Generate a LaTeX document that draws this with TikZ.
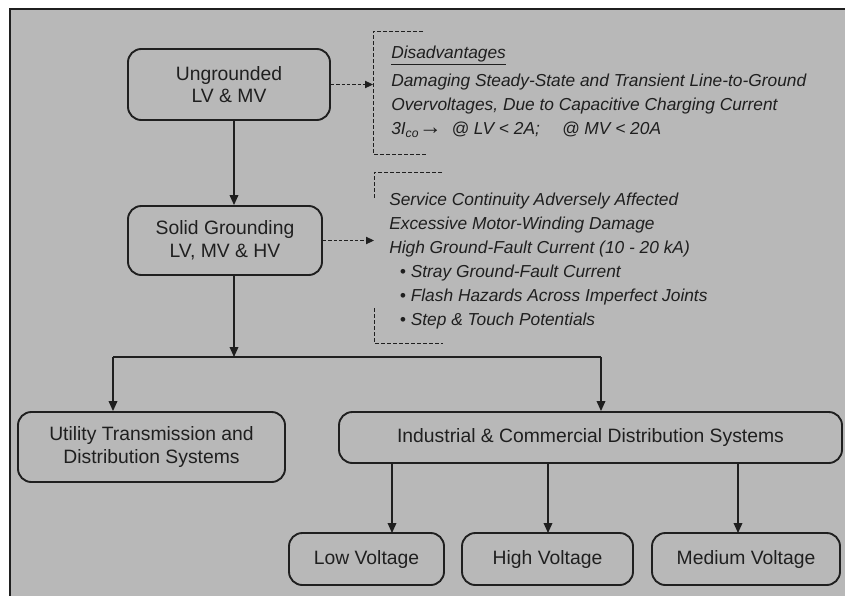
\documentclass[tikz,border=0pt]{standalone}
\usepackage{fontspec}
\setmainfont{Liberation Sans}
\usetikzlibrary{arrows.meta,calc}
\definecolor{halftone}{gray}{0.72}
\definecolor{inkgray}{gray}{0.12}
\tikzset{
	block/.style={
			draw=inkgray, line width=1.4pt, rounded corners=10pt, fill=halftone,
			align=center, text=inkgray, inner sep=2pt,
			font=\fontsize{14.5}{17}\selectfont
		},
	flow/.style={draw=inkgray, line width=1pt, -{Triangle[length=7.5pt,width=6.5pt]}},
	hint/.style={draw=inkgray, line width=0.6pt, dash pattern=on 2.5pt off 1.5pt,
			-{Triangle[length=6pt,width=5.5pt]}},
	bracket/.style={draw=inkgray, line width=0.7pt, dash pattern=on 3pt off 1.5pt},
	notes/.style={anchor=north west, align=left, inner sep=0pt, text=inkgray,
			font=\itshape\fontsize{13}{18}\selectfont}
}

\begin{document}
\begin{tikzpicture}[x=0.75pt,y=-0.75pt]
	\useasboundingbox (0,0) rectangle (845,596);

	% Draw the frame
	\fill[halftone] (10,9) rectangle (845,596);
	\draw[inkgray, line width=1.2pt] (845,9) -- (10,9) -- (10,596);

	% Grounding methods
	\node[block, minimum width=151.5pt, minimum height=53.25pt] (ungrounded) at (229,84.5) {Ungrounded\\LV \& MV};
	\node[block, minimum width=145.5pt, minimum height=51.75pt] (solid) at (225,240.5) {Solid Grounding\\LV, MV \& HV};

	% Systems
	\node[block, minimum width=200.25pt, minimum height=52.5pt] (utility) at (151.5,447) {Utility Transmission and\\Distribution Systems};
	\node[block, minimum width=377.25pt, minimum height=38.25pt] (industrial) at (590.5,437.5) {Industrial \& Commercial Distribution Systems};
	\node[block, minimum width=116.25pt, minimum height=39pt] (low) at (366.5,559) {Low Voltage};
	\node[block, minimum width=128.25pt, minimum height=39pt] (high) at (547.5,559) {High Voltage};
	\node[block, minimum width=141pt, minimum height=39pt] (medium) at (746,559) {Medium Voltage};

	% Disadvantage notes
	\node[notes] (dis1) at (391,46) {\underline{Disadvantages}\\[3pt]
		Damaging Steady-State and Transient Line-to-Ground\\
		Overvoltages, Due to Capacitive Charging Current\\
		3I\textsubscript{co}{\fontsize{17}{18}\selectfont →}\ \ @ LV < 2A;\quad\ @ MV < 20A};
	\node[notes] (dis2) at (389,192.5) {Service Continuity Adversely Affected\\
		Excessive Motor-Winding Damage\\
		High Ground-Fault Current (10 - 20 kA)\\
		\hspace*{8pt}• Stray Ground-Fault Current\\
		\hspace*{8pt}• Flash Hazards Across Imperfect Joints\\
		\hspace*{8pt}• Step \& Touch Potentials};

	% Dashed brackets
	\coordinate (brak1) at (373,31);
	\coordinate (brak2) at (374,172);
	\draw[bracket] (423,31) -- (brak1) -- (373,154) -- (427,154);
	\draw[bracket] (442,172) -- (brak2) -- (374,200);
	\draw[bracket] (374,308) -- (374,343) -- (443,343);
	\draw[hint] (ungrounded.east) -- (ungrounded.east -| brak1);
	\draw[hint] (solid.east) -- (solid.east -| brak2);

	% Tree connectors
	\coordinate (split) at (234,357);
	\coordinate (lefttap) at (113,357);
	\coordinate (righttap) at (601,357);
	\draw[flow] (ungrounded.south -| split) -- (solid.north -| split);
	\draw[flow] (solid.south -| split) -- (split);
	\draw[inkgray, line width=1pt] (lefttap) -- (righttap);
	\draw[flow] (lefttap) -- (utility.north -| lefttap);
	\draw[flow] (righttap) -- (industrial.north -| righttap);

	% Voltage levels
	\coordinate (lowtap) at (392,533);
	\coordinate (hightap) at (548,533);
	\coordinate (medtap) at (738,533);
	\foreach \t in {lowtap, hightap, medtap} {
			\draw[flow] (industrial.south -| \t) -- (\t);
		}
\end{tikzpicture}
\end{document}
